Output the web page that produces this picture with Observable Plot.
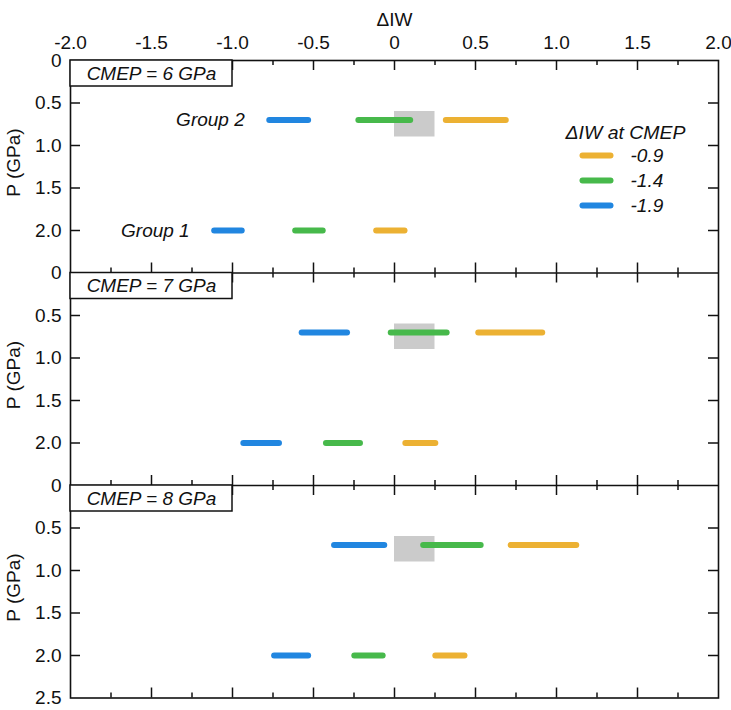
<!DOCTYPE html>
<html>
<head>
<meta charset="utf-8">
<script src="https://cdn.jsdelivr.net/npm/d3@7"></script>
<script src="https://cdn.jsdelivr.net/npm/@observablehq/plot@0.6"></script>
<style>
  body { margin: 0; background: #fff; }
</style>
</head>
<body>
<div id="chart"></div>
<script>
// ---- data ----
const panelLabels = ["CMEP = 6 GPa", "CMEP = 7 GPa", "CMEP = 8 GPa"];
const seriesNames = ["-0.9", "-1.4", "-1.9"];
const seriesColors = ["#ecb133", "#47b94b", "#2186e0"];
const legendTitle = "ΔIW at CMEP";
const groupNames = ["Group 1", "Group 2"];
const groupP = [2.0, 0.7];
// [x1, x2] per panel (CMEP 6, 7, 8)
const g1_orange = [[-0.11, 0.065], [0.07, 0.255], [0.255, 0.435]];
const g1_green  = [[-0.61, -0.44], [-0.42, -0.21], [-0.245, -0.07]];
const g1_blue   = [[-1.11, -0.94], [-0.93, -0.71], [-0.74, -0.53]];
const g2_orange = [[0.32, 0.69], [0.52, 0.915], [0.72, 1.125]];
const g2_green  = [[-0.22, 0.10], [-0.02, 0.325], [0.18, 0.535]];
const g2_blue   = [[-0.77, -0.53], [-0.57, -0.29], [-0.37, -0.06]];
const shadeX = [0, 0.25];
const shadeP = [0.6, 0.9];
const xDomain = [-2, 2];
const xMajor = [-2, -1.5, -1, -0.5, 0, 0.5, 1, 1.5, 2];
const xMinor = [-1.75, -1.25, -0.75, -0.25, 0.25, 0.75, 1.25, 1.75];
const pTicks = [0, 0.5, 1, 1.5, 2];
const pMax = 2.5;
const xTitle = "ΔIW";
const yTitle = "P (GPa)";

// ---- layout ----
const W = 731, H = 710;
const mL = 70, mR = 13, mT = 60, mB = 12.5;
const nP = panelLabels.length;
const yMaxAll = pMax * nP;
const pxPerY = (H - mT - mB) / yMaxAll;
const pxPerX = (W - mL - mR) / (xDomain[1] - xDomain[0]);
const FONT = "'Liberation Sans', Arial, Helvetica, sans-serif";

// ---- build tables ----
const byGroup = [[g1_orange, g1_green, g1_blue], [g2_orange, g2_green, g2_blue]];
const bars = [];
panelLabels.forEach((lab, pi) => {
  groupP.forEach((p, gi) => {
    seriesNames.forEach((s, si) => {
      const [a, b] = byGroup[gi][si][pi];
      bars.push({panel: pi, P: p, x1: a, x2: b, series: s});
    });
  });
});
const panels = panelLabels.map((label, i) => ({i, label, off: i * pMax}));

// x ticks on each panel edge, pointing inward
const xt = [];
for (let b = 0; b <= nP; b++) {
  const yb = b * pMax;
  const add = (x, len) => {
    const L = len / pxPerY;
    if (b < nP) xt.push({x, y1: yb, y2: yb + L});
    if (b > 0) xt.push({x, y1: yb - L, y2: yb});
  };
  xMajor.slice(1, -1).forEach(x => add(x, 10));
  xMinor.forEach(x => add(x, 5));
}
// y ticks on left and right, pointing inward
const yt = [];
const Lx = 10 / pxPerX;
panels.forEach(p => {
  pTicks.slice(1).forEach(t => {
    yt.push({y: p.off + t, x1: xDomain[0], x2: xDomain[0] + Lx});
    yt.push({y: p.off + t, x1: xDomain[1] - Lx, x2: xDomain[1]});
  });
});
const yTickVals = [];
for (let k = 0; k <= nP * 5; k++) yTickVals.push(k * 0.5);
const yFmt = t => {
  if (Math.abs(t - yMaxAll) < 1e-9) return pMax.toFixed(1);
  const v = Math.round((t % pMax) * 10) / 10;
  return v === 0 ? "0" : v.toFixed(1);
};
const xFmt = d => d === 0 ? "0" : d.toFixed(1);

// group labels next to the leftmost (blue) bar of the first panel
const groupLabelData = groupNames.map((g, gi) => ({
  name: g,
  P: groupP[gi],
  x: Math.min(...byGroup[gi].map(s => s[0][0]))
}));

const boxH = 26 / pxPerY;
const hline = { draw(ctx) { ctx.moveTo(-14, 0); ctx.lineTo(14, 0); } };

const legendMarks = [];
seriesNames.forEach((s, i) => {
  legendMarks.push(Plot.dot([s], {
    frameAnchor: "top-right", dx: -122, dy: 95 + i * 25,
    symbol: hline, fill: "none", stroke: seriesColors[i], strokeWidth: 6, strokeLinecap: "round"
  }));
  legendMarks.push(Plot.text([s], {
    frameAnchor: "top-right", dx: -88, dy: 95 + i * 25, text: d => d,
    textAnchor: "start", lineAnchor: "middle", fontSize: 19, fontStyle: "italic", fill: "#111"
  }));
});

const chart = Plot.plot({
  width: W, height: H,
  marginLeft: mL, marginRight: mR, marginTop: mT, marginBottom: mB,
  style: {fontFamily: FONT, fontSize: "19px", background: "#fff", color: "#111"},
  x: {domain: xDomain, label: null},
  y: {domain: [0, yMaxAll], reverse: true, label: null},
  color: {domain: seriesNames, range: seriesColors},
  marks: [
    Plot.rect(panels, {x1: () => shadeX[0], x2: () => shadeX[1], y1: d => d.off + shadeP[0], y2: d => d.off + shadeP[1], fill: "#cbcbcb"}),
    Plot.ruleY(bars, {y: d => d.P + d.panel * pMax, x1: "x1", x2: "x2", stroke: "series", strokeWidth: 6, strokeLinecap: "round"}),
    Plot.ruleX(xt, {x: "x", y1: "y1", y2: "y2", stroke: "#111", strokeWidth: 1.5}),
    Plot.ruleY(yt, {y: "y", x1: "x1", x2: "x2", stroke: "#111", strokeWidth: 1.5}),
    Plot.ruleY(panels.slice(1), {y: "off", stroke: "#111", strokeWidth: 1.6}),
    Plot.frame({stroke: "#111", strokeWidth: 1.6}),
    Plot.rect(panels, {x1: () => xDomain[0], x2: () => xDomain[0] + 1, y1: "off", y2: d => d.off + boxH, fill: "#fff", stroke: "#111", strokeWidth: 1.5}),
    Plot.text(panels, {x: () => xDomain[0] + 0.5, y: d => d.off + boxH / 2, text: "label", fontSize: 19, fontStyle: "italic", fill: "#111"}),
    Plot.axisX({anchor: "top", ticks: xMajor, tickFormat: xFmt, tickSize: 0, tickPadding: 12, fontSize: 19, fill: "#111"}),
    Plot.axisY({anchor: "left", ticks: yTickVals, tickFormat: yFmt, tickSize: 0, tickPadding: 9, fontSize: 19, fill: "#111"}),
    Plot.text([xTitle], {frameAnchor: "top", dy: -48, text: d => d, fontSize: 19, fill: "#111"}),
    Plot.text(panels, {frameAnchor: "left", y: d => d.off + pMax / 2 - 0.05, text: () => yTitle, rotate: -90, dx: -57, textAnchor: "middle", lineAnchor: "middle", fontSize: 19, fill: "#111"}),
    Plot.text(groupLabelData, {x: "x", y: "P", text: "name", dx: -25, textAnchor: "end", fontSize: 19, fontStyle: "italic", fill: "#111"}),
    Plot.text([legendTitle], {frameAnchor: "top-right", dx: -93, dy: 65, text: d => d, textAnchor: "middle", fontSize: 19, fontStyle: "italic", fill: "#111"}),
    ...legendMarks
  ]
});

document.getElementById("chart").appendChild(chart);
// stretch legend title to its drawn width
chart.querySelectorAll("text").forEach(t => {
  if (t.textContent === legendTitle) {
    t.setAttribute("textLength", 120);
    t.setAttribute("lengthAdjust", "spacingAndGlyphs");
  }
});
</script>
</body>
</html>
